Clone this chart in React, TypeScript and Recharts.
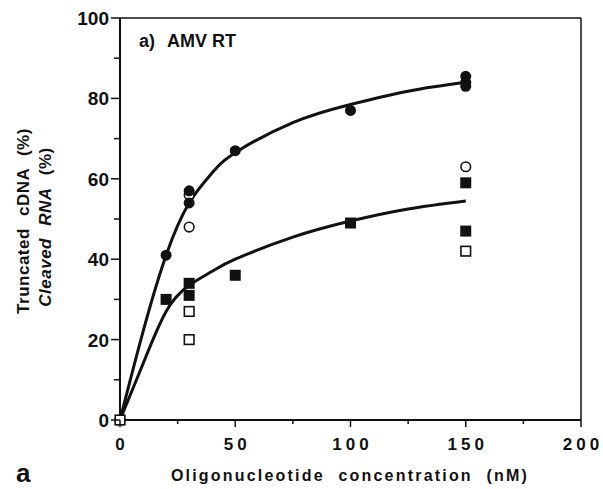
import { ComposedChart, Line, Scatter, XAxis, YAxis, ReferenceLine } from 'recharts';

const cdnaFilled = [
    { x: 20, y: 41 }, { x: 30, y: 57 }, { x: 30, y: 54 }, { x: 50, y: 67 },
    { x: 100, y: 77 }, { x: 150, y: 85.5 }, { x: 150, y: 84 }, { x: 150, y: 83 },
];
const cdnaOpen = [{ x: 0, y: 0 }, { x: 30, y: 56 }, { x: 30, y: 48 }, { x: 150, y: 63 }];
const rnaFilled = [
    { x: 20, y: 30 }, { x: 30, y: 34 }, { x: 30, y: 31 }, { x: 50, y: 36 },
    { x: 100, y: 49 }, { x: 150, y: 59 }, { x: 150, y: 47 },
];
const rnaOpen = [{ x: 0, y: 0 }, { x: 30, y: 27 }, { x: 30, y: 20 }, { x: 150, y: 42 }];

// fitted curves
const upperCurve = [
    { x: 0, y: 0 }, { x: 10, y: 22 }, { x: 20, y: 41 }, { x: 30, y: 54 }, { x: 40, y: 61.5 },
    { x: 50, y: 66.5 }, { x: 75, y: 74 }, { x: 100, y: 78.5 }, { x: 125, y: 81.8 }, { x: 150, y: 84 },
];
const lowerCurve = [
    { x: 0, y: 0 }, { x: 10, y: 14 }, { x: 20, y: 27 }, { x: 30, y: 33.5 }, { x: 40, y: 37 },
    { x: 50, y: 40 }, { x: 75, y: 45.5 }, { x: 100, y: 49.5 }, { x: 125, y: 52.5 }, { x: 150, y: 54.5 },
];

const xTicks = [0, 25, 50, 75, 100, 125, 150, 175, 200];
const yTicks = [0, 10, 20, 30, 40, 50, 60, 70, 80, 90, 100];

const ink = '#111';
const font = '"Liberation Sans", Arial, sans-serif';

const XTick = (props: any) => {
    const { x, y, payload } = props;
    const major = payload.value % 50 === 0;
    return (
        <g>
            <line x1={x} y1={y} x2={x} y2={y + (major ? 7 : 4)} stroke={ink} strokeWidth={1.5} />
            {major && (
                <text x={x} y={y + 30} dx={2} textAnchor="middle" fontFamily={font} fontWeight="bold"
                    fontSize={17} letterSpacing={4} fill={ink}>
                    {payload.value}
                </text>
            )}
        </g>
    );
};

const YTick = (props: any) => {
    const { x, y, payload } = props;
    const major = payload.value % 20 === 0;
    return (
        <g>
            <line x1={x - (major ? 9 : 6)} y1={y} x2={x} y2={y} stroke={ink} strokeWidth={1.5} />
            {major && (
                <text x={x - 11} y={y + 7} textAnchor="end" fontFamily={font} fontWeight="bold"
                    fontSize={19} fill={ink}>
                    {payload.value}
                </text>
            )}
        </g>
    );
};

const FilledCircle = (p: any) => <circle cx={p.cx} cy={p.cy} r={5.5} fill={ink} />;
const OpenCircle = (p: any) => <circle cx={p.cx} cy={p.cy} r={4.8} fill="#fff" stroke={ink} strokeWidth={1.6} />;
const FilledSquare = (p: any) => <rect x={p.cx - 5.5} y={p.cy - 5.5} width={11} height={11} fill={ink} />;
const OpenSquare = (p: any) => (
    <rect x={p.cx - 4.8} y={p.cy - 4.8} width={9.6} height={9.6} fill="#fff" stroke={ink} strokeWidth={1.6} />
);

export default function App() {
    return (
        <div style={{ position: 'absolute', left: 0, top: 0, background: '#fff' }}>
            <ComposedChart width={603} height={489} margin={{ top: 18, right: 22, left: 60, bottom: 29 }}>
                <XAxis type="number" dataKey="x" domain={[0, 200]} ticks={xTicks} interval={0}
                    height={40} tickSize={0} tickMargin={0} tickLine={false} tick={<XTick />}
                    axisLine={{ stroke: ink, strokeWidth: 2 }} />
                <YAxis type="number" domain={[0, 100]} ticks={yTicks} interval={0}
                    width={60} tickSize={0} tickMargin={0} tickLine={false} tick={<YTick />}
                    axisLine={{ stroke: ink, strokeWidth: 2 }} />
                <ReferenceLine y={100} stroke={ink} strokeWidth={1.5} />
                <ReferenceLine x={200} stroke={ink} strokeWidth={1.5} />
                <Line data={upperCurve} dataKey="y" type="natural" stroke={ink} strokeWidth={3}
                    dot={false} isAnimationActive={false} />
                <Line data={lowerCurve} dataKey="y" type="natural" stroke={ink} strokeWidth={3}
                    dot={false} isAnimationActive={false} />
                <Scatter data={cdnaOpen} dataKey="y" shape={<OpenCircle />} isAnimationActive={false} />
                <Scatter data={rnaOpen} dataKey="y" shape={<OpenSquare />} isAnimationActive={false} />
                <Scatter data={cdnaFilled} dataKey="y" shape={<FilledCircle />} isAnimationActive={false} />
                <Scatter data={rnaFilled} dataKey="y" shape={<FilledSquare />} isAnimationActive={false} />
                <text x={139} y={47} fontFamily={font} fontWeight="bold" fontSize={18} fill={ink}>
                    a)<tspan dx={12}>AMV RT</tspan>
                </text>
                <text x={350} y={481} textAnchor="middle" fontFamily={font} fontWeight="bold" fontSize={16}
                    letterSpacing={2.2} wordSpacing={7} fill={ink}>
                    Oligonucleotide concentration (nM)
                </text>
                <text x={16} y={482} fontFamily={font} fontWeight="bold" fontSize={26} fill={ink}>a</text>
                <text transform="translate(29 221) rotate(-90)" textAnchor="middle" fontFamily={font}
                    fontWeight="bold" fontSize={17} wordSpacing={7} letterSpacing={0.5} fill={ink}>
                    Truncated cDNA (%)
                </text>
                <text transform="translate(51 227) rotate(-90)" textAnchor="middle" fontFamily={font}
                    fontWeight="bold" fontSize={17} wordSpacing={7} letterSpacing={0.5} fill={ink}>
                    <tspan fontStyle="italic">Cleaved RNA</tspan> (%)
                </text>
            </ComposedChart>
        </div>
    );
}
